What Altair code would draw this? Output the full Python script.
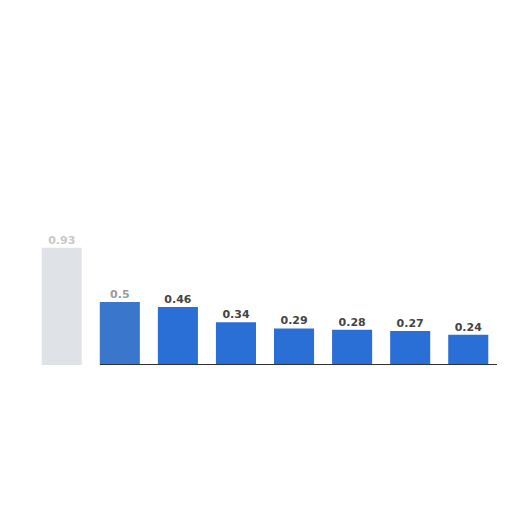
import altair as alt
import pandas as pd

categories = ["c1", "c2", "c3", "c4", "c5", "c6", "c7", "c8"]
values = [0.93, 0.5, 0.46, 0.34, 0.29, 0.28, 0.27, 0.24]
labels = ["0.93", "0.5", "0.46", "0.34", "0.29", "0.28", "0.27", "0.24"]

df = pd.DataFrame({"cat": categories, "value": values, "label": labels})

bar_colors = ["#dfe3e8", "#3a76cc"] + ["#2a6fd6"] * 6
text_colors = ["#c8c8c8", "#9a9a9a"] + ["#444444"] * 6

x = alt.X("cat:N", sort=categories, axis=None,
          scale=alt.Scale(paddingInner=0.31, paddingOuter=0.15))
y = alt.Y("value:Q", axis=None, scale=alt.Scale(domain=[0, 1]))

bars = alt.Chart(df).mark_bar().encode(
    x=x, y=y,
    color=alt.Color("cat:N", scale=alt.Scale(domain=categories, range=bar_colors), legend=None),
)
text = alt.Chart(df).mark_text(dy=-7, fontSize=11, fontWeight="bold", font="DejaVu Sans").encode(
    x=x, y=y, text="label:N",
    color=alt.Color("cat:N", scale=alt.Scale(domain=categories, range=text_colors), legend=None),
)
base = alt.Chart(df).mark_rule(color="#333333", strokeWidth=1).encode(
    y=alt.datum(0), x=alt.value(67), x2=alt.value(470)
)

chart = (bars + text + base).resolve_scale(color="independent").properties(
    width=464, height=126,
    padding={"left": 25, "top": 231, "right": 0, "bottom": 0},
    autosize=alt.AutoSizeParams(type="none"),
).configure_view(stroke=None)

chart.save("out.html", embed_options={"renderer": "svg", "actions": False})
